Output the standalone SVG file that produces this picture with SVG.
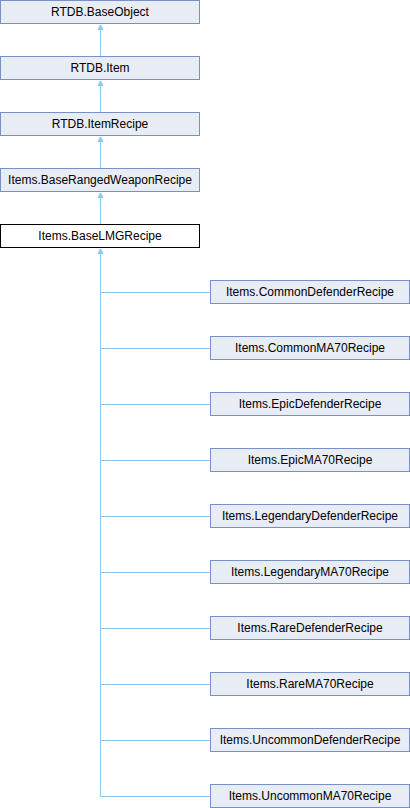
<svg xmlns="http://www.w3.org/2000/svg" width="410" height="808" viewBox="0 0 410 808">
<style>
.n rect{fill:#e8ecf4;stroke:#7592c6;stroke-width:1}
.n.cur rect{fill:#ffffff;stroke:#000000}
.n text{font-family:"Liberation Sans",Arial,sans-serif;font-size:12px;fill:#000;text-anchor:middle}
.e line,.e path{stroke:#8ac8ef;stroke-width:1;fill:none}
.e polygon{fill:#8ac8ef;stroke:#8ac8ef;stroke-width:1}
</style>
<rect width="410" height="808" fill="#ffffff"/>
<g id="edges" class="e">
<line x1="100.5" y1="29" x2="100.5" y2="56.5"/>
<polygon points="100.5,25 98,29.5 103,29.5"/>
<line x1="100.5" y1="85" x2="100.5" y2="112.5"/>
<polygon points="100.5,81 98,85.5 103,85.5"/>
<line x1="100.5" y1="141" x2="100.5" y2="168.5"/>
<polygon points="100.5,137 98,141.5 103,141.5"/>
<line x1="100.5" y1="197" x2="100.5" y2="224.5"/>
<polygon points="100.5,193 98,197.5 103,197.5"/>
<path d="M100.5,253 V796.5 H210.5"/>
<polygon points="100.5,249 98,253.5 103,253.5"/>
<path d="M100.5,292.5 H210.5"/>
<path d="M100.5,348.5 H210.5"/>
<path d="M100.5,404.5 H210.5"/>
<path d="M100.5,460.5 H210.5"/>
<path d="M100.5,516.5 H210.5"/>
<path d="M100.5,572.5 H210.5"/>
<path d="M100.5,628.5 H210.5"/>
<path d="M100.5,684.5 H210.5"/>
<path d="M100.5,740.5 H210.5"/>
</g>
<g id="RTDB.BaseObject" class="n"><rect x="0.5" y="0.5" width="199" height="23"/><text x="100" y="16">RTDB.BaseObject</text></g>
<g id="RTDB.Item" class="n"><rect x="0.5" y="56.5" width="199" height="23"/><text x="100" y="72">RTDB.Item</text></g>
<g id="RTDB.ItemRecipe" class="n"><rect x="0.5" y="112.5" width="199" height="23"/><text x="100" y="128">RTDB.ItemRecipe</text></g>
<g id="Items.BaseRangedWeaponRecipe" class="n"><rect x="0.5" y="168.5" width="199" height="23"/><text x="100" y="184">Items.BaseRangedWeaponRecipe</text></g>
<g id="Items.BaseLMGRecipe" class="n cur"><rect x="0.5" y="224.5" width="199" height="23"/><text x="100" y="240">Items.BaseLMGRecipe</text></g>
<g id="Items.CommonDefenderRecipe" class="n"><rect x="210.5" y="280.5" width="199" height="23"/><text x="310" y="296">Items.CommonDefenderRecipe</text></g>
<g id="Items.CommonMA70Recipe" class="n"><rect x="210.5" y="336.5" width="199" height="23"/><text x="310" y="352">Items.CommonMA70Recipe</text></g>
<g id="Items.EpicDefenderRecipe" class="n"><rect x="210.5" y="392.5" width="199" height="23"/><text x="310" y="408">Items.EpicDefenderRecipe</text></g>
<g id="Items.EpicMA70Recipe" class="n"><rect x="210.5" y="448.5" width="199" height="23"/><text x="310" y="464">Items.EpicMA70Recipe</text></g>
<g id="Items.LegendaryDefenderRecipe" class="n"><rect x="210.5" y="504.5" width="199" height="23"/><text x="310" y="520">Items.LegendaryDefenderRecipe</text></g>
<g id="Items.LegendaryMA70Recipe" class="n"><rect x="210.5" y="560.5" width="199" height="23"/><text x="310" y="576">Items.LegendaryMA70Recipe</text></g>
<g id="Items.RareDefenderRecipe" class="n"><rect x="210.5" y="616.5" width="199" height="23"/><text x="310" y="632">Items.RareDefenderRecipe</text></g>
<g id="Items.RareMA70Recipe" class="n"><rect x="210.5" y="672.5" width="199" height="23"/><text x="310" y="688">Items.RareMA70Recipe</text></g>
<g id="Items.UncommonDefenderRecipe" class="n"><rect x="210.5" y="728.5" width="199" height="23"/><text x="310" y="744">Items.UncommonDefenderRecipe</text></g>
<g id="Items.UncommonMA70Recipe" class="n"><rect x="210.5" y="784.5" width="199" height="23"/><text x="310" y="800">Items.UncommonMA70Recipe</text></g>
</svg>
